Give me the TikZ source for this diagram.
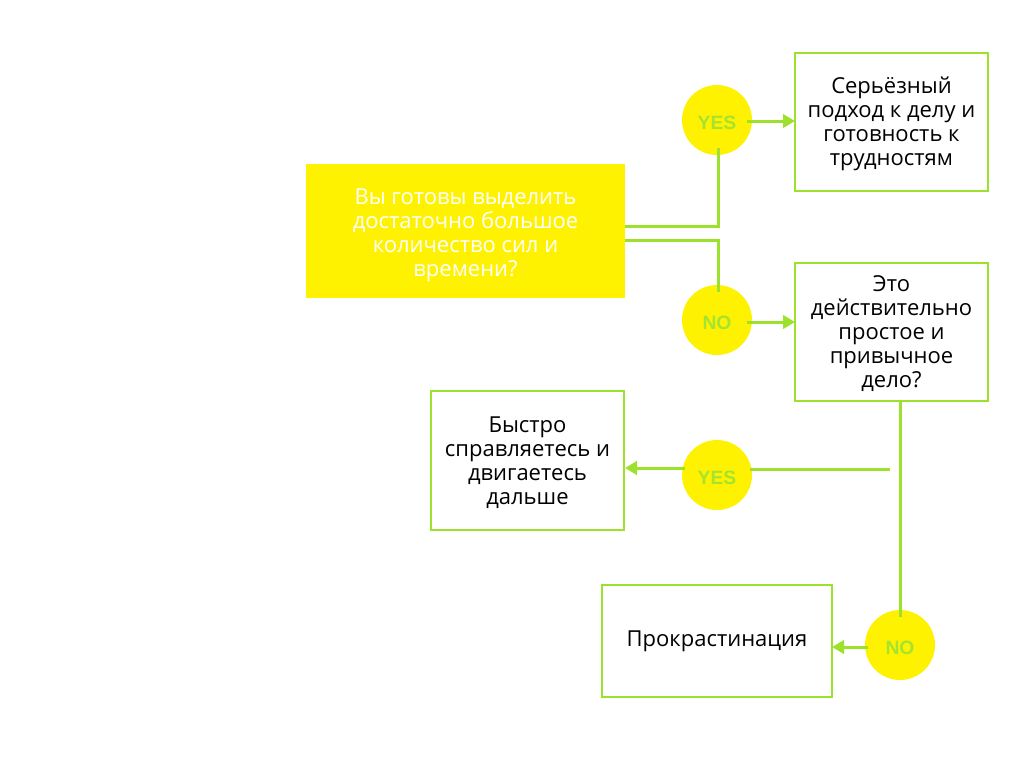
\documentclass[tikz,border=0pt]{standalone}
\usepackage{fontspec}
\setmainfont{Open Sans}
\newfontfamily\labfont{Liberation Sans}
\usetikzlibrary{arrows.meta}
\definecolor{lime}{HTML}{9CE22C}
\definecolor{limetext}{HTML}{A6E331}
\definecolor{yel}{HTML}{FFF200}
\newcommand\mylines[2][-2.25pt]{\raisebox{#1}[\height][\depth]{\begin{tabular}{@{}c@{}}#2\end{tabular}}}
\newcommand\mylab[1]{\raisebox{-2.25pt}[\height][\depth]{#1}}
\tikzset{
  px/.style={x=0.75pt,y=-0.75pt},
  box/.style={draw=lime,line width=2pt,fill=white,inner sep=0pt,
    font=\fontsize{16.5}{18}\selectfont,text=black},
  ybox/.style={fill=yel,inner sep=0pt,font=\fontsize{16.5}{18}\selectfont,text=white},
  dec/.style={circle,fill=yel,minimum size=52.5pt,inner sep=0pt,
    font=\labfont\bfseries\fontsize{14.5}{14.5}\selectfont,text=limetext},
  conn/.style={draw=lime,line width=2.25pt},
  arr/.style={conn,-{Triangle[length=9pt,width=10pt]}},
}
\begin{document}
\begin{tikzpicture}[px]
\useasboundingbox (0,0) rectangle (1024,768);
% boxes
\node[ybox,minimum width=239pt,minimum height=100.5pt] (q) at (465.5,231) {\mylines[-3.4pt]{Вы готовы выделить\\достаточно большое\\количество сил и\\времени?}};
\node[box,minimum width=144.75pt,minimum height=103.5pt] (b1) at (891.5,122) {\mylines{Серьёзный\\подход к делу и\\готовность к\\трудностям}};
\node[box,minimum width=144.75pt,minimum height=103.5pt] (b2) at (891.5,332) {\mylines[-1.9pt]{Это\\действительно\\простое и\\привычное\\дело?}};
\node[box,minimum width=144.75pt,minimum height=104.25pt] (b3) at (527.5,460.5) {\mylines{Быстро\\справляетесь и\\двигаетесь\\дальше}};
\node[box,minimum width=172.5pt,minimum height=84pt] (b4) at (717,641) {Прокрастинация};
% decisions
\node[dec] (y1) at (717,120) {\mylab{YES}};
\node[dec] (n1) at (717,320) {\mylab{NO}};
\node[dec] (y2) at (717,475) {\mylab{YES}};
\node[dec] (n2) at (900,645) {\mylab{NO}};
% helper coordinates
\coordinate (qa) at (625,226);
\coordinate (qb) at (625,240);
\coordinate (y1s) at (718,148);
\coordinate (n1n) at (718,292);
\coordinate (y1e) at (747,121);
\coordinate (b1w) at (795,121);
\coordinate (n1e) at (747,322);
\coordinate (b2w) at (795,322);
\coordinate (b2s) at (900,401);
\coordinate (n2n) at (900,617);
\coordinate (hs) at (890,469);
\coordinate (y2e) at (750,469);
\coordinate (y2w) at (685,468);
\coordinate (b3e) at (625,468);
\coordinate (n2w) at (868,647);
\coordinate (b4e) at (832,647);
% connectors
\draw[conn] (qa) -| (y1s);
\draw[conn] (qb) -| (n1n);
\draw[arr] (y1e) -- (b1w);
\draw[arr] (n1e) -- (b2w);
\draw[conn] (b2s) -- (n2n);
\draw[conn] (hs) -- (y2e);
\draw[arr] (y2w) -- (b3e);
\draw[arr] (n2w) -- (b4e);
\end{tikzpicture}
\end{document}
